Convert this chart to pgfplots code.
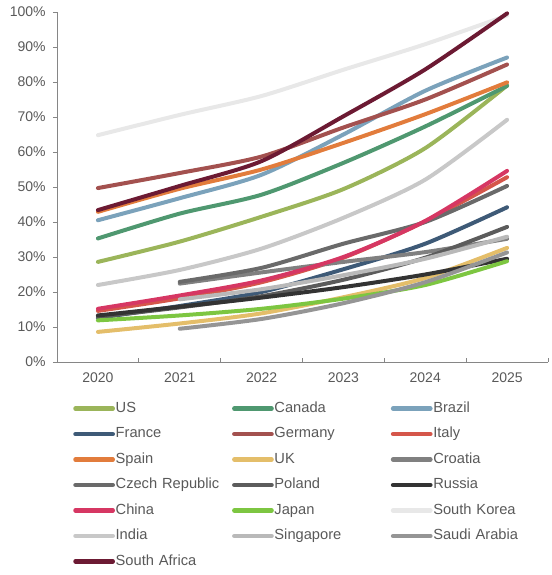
\documentclass[border=0pt]{standalone}
\usepackage{fontspec}
\setmainfont{Liberation Sans}
\usepackage{pgfplots}
\pgfplotsset{compat=1.18}
\definecolor{txt}{HTML}{595959}
\definecolor{axl}{HTML}{868686}
\definecolor{cUS}{HTML}{9BB55A}
\definecolor{cCA}{HTML}{4F9870}
\definecolor{cBR}{HTML}{7BA2BB}
\definecolor{cFR}{HTML}{3E5A77}
\definecolor{cDE}{HTML}{A3514F}
\definecolor{cIT}{HTML}{D5564A}
\definecolor{cES}{HTML}{E27C3C}
\definecolor{cUK}{HTML}{E4BE6A}
\definecolor{cHR}{HTML}{808080}
\definecolor{cCZ}{HTML}{6A6A6A}
\definecolor{cPL}{HTML}{5C5C5C}
\definecolor{cRU}{HTML}{333333}
\definecolor{cCN}{HTML}{D63763}
\definecolor{cJP}{HTML}{7DC641}
\definecolor{cKR}{HTML}{E8E8E8}
\definecolor{cIN}{HTML}{C8C8C8}
\definecolor{cSG}{HTML}{B9B9B9}
\definecolor{cSA}{HTML}{959595}
\definecolor{cZA}{HTML}{6C1A33}
\begin{document}
\begin{tikzpicture}
\path (-42.75pt,-159.75pt) rectangle (371.25pt,271.5pt);
\begin{axis}[
  scale only axis, width=368.25pt, height=262.5pt,
  clip=false,
  xmin=-0.5, xmax=5.5, ymin=0, ymax=100,
  axis x line*=bottom, axis y line*=left,
  axis line style={axl, line width=0.6pt},
  xtick={0,...,5}, xticklabels={2020,2021,2022,2023,2024,2025},
  minor xtick={0.5,1.5,2.5,3.5,4.5,5.5},
  major x tick style={draw=none},
  minor x tick style={axl, line width=0.6pt},
  minor tick length=3pt,
  ytick={0,10,...,100},
  yticklabels={0\%,10\%,20\%,30\%,40\%,50\%,60\%,70\%,80\%,90\%,100\%},
  tick align=inside,
  major y tick style={axl, line width=0.6pt, xshift=-3pt},
  major tick length=3pt,
  tick label style={font=\fontsize{10.5}{12}\selectfont, text=txt},
  xticklabel style={yshift=-4.5pt},
  yticklabel style={xshift=-5pt},
  every axis plot/.append style={line width=3pt, line cap=round, smooth, tension=0.45},
  legend columns=3,
  legend cell align=left,
  legend style={draw=none, fill=none, inner sep=0pt, at={(0,0)}, anchor=north west,
    xshift=12pt, yshift=-30pt,
    font=\fontsize{11}{13}\selectfont, text=txt, row sep=9.6pt,
    nodes={inner xsep=0.5pt, inner ysep=0pt, text height=7.5pt, text depth=2pt},
    /tikz/every even column/.append style={text width=86.8pt}},
  legend image code/.code={\draw[#1, line width=3.3pt, line cap=round] (0pt,0pt) -- (28pt,0pt);},
]
\addplot[cUS] coordinates {(0,28.6) (1,34.4) (2,41.5) (3,49.4) (4,61.1) (5,79.0)};
\addplot[cCA] coordinates {(0,35.3) (1,42.4) (2,47.8) (3,56.9) (4,67.3) (5,78.9)};
\addplot[cBR] coordinates {(0,40.5) (1,46.8) (2,53.5) (3,65.0) (4,77.5) (5,87.0)};
\addplot[cFR] coordinates {(0,12.6) (1,16.0) (2,20.0) (3,26.5) (4,33.8) (5,44.2)};
\addplot[cDE] coordinates {(0,49.7) (1,54.0) (2,58.7) (3,67.0) (4,75.0) (5,85.0)};
\addplot[cIT] coordinates {(0,14.6) (1,18.2) (2,22.8) (3,29.8) (4,40.2) (5,52.8)};
\addplot[cES] coordinates {(0,42.9) (1,49.5) (2,55.0) (3,62.6) (4,70.8) (5,79.9)};
\addplot[cUK] coordinates {(0,8.6) (1,11.0) (2,13.9) (3,18.5) (4,24.0) (5,32.6)};
\addplot[cHR] coordinates {(1,22.4) (2,25.6) (3,28.6) (4,31.4) (5,35.2)};
\addplot[cCZ] coordinates {(1,22.9) (2,26.9) (3,33.8) (4,40.0) (5,50.3)};
\addplot[cPL] coordinates {(0,12.9) (1,15.6) (2,18.8) (3,23.5) (4,29.8) (5,38.6)};
\addplot[cRU] coordinates {(0,13.3) (1,15.8) (2,18.4) (3,21.4) (4,25.0) (5,29.5)};
\addplot[cCN] coordinates {(0,15.2) (1,19.0) (2,23.3) (3,30.0) (4,40.3) (5,54.6)};
\addplot[cJP] coordinates {(0,11.9) (1,13.3) (2,15.2) (3,18.1) (4,22.0) (5,28.8)};
\addplot[cKR] coordinates {(0,64.8) (1,70.6) (2,76.0) (3,83.5) (4,90.8) (5,99.0)};
\addplot[cIN] coordinates {(0,22.0) (1,26.3) (2,32.4) (3,41.2) (4,52.1) (5,69.2)};
\addplot[cSG] coordinates {(1,17.9) (2,20.8) (3,24.8) (4,29.5) (5,35.8)};
\addplot[cSA] coordinates {(1,9.5) (2,12.3) (3,16.8) (4,22.8) (5,31.3)};
\addplot[cZA] coordinates {(0,43.4) (1,50.3) (2,57.4) (3,70.2) (4,83.6) (5,99.6)};
\legend{US,Canada,Brazil,France,Germany,Italy,Spain,UK,Croatia,Czech Republic,Poland,Russia,China,Japan,South Korea,India,Singapore,Saudi Arabia,South Africa}
\end{axis}
\end{tikzpicture}
\end{document}
